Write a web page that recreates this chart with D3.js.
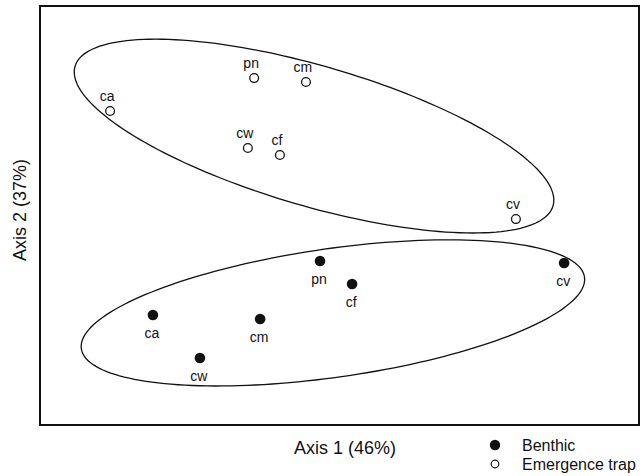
<!DOCTYPE html>
<html><head><meta charset="utf-8">
<script src="https://cdn.jsdelivr.net/npm/d3@7"></script>
<style>body{margin:0;background:#fff}svg{display:block}text{font-family:"Liberation Sans",Arial,sans-serif;fill:#111}</style>
</head><body>
<script>
// Ordination scores (axis units, no ticks shown)
const sites = ["ca","pn","cm","cw","cf","cv"];
const trapX = [-0.766,-0.285,-0.112,-0.306,-0.199,0.589];
const trapY = [0.499,0.656,0.637,0.322,0.289,-0.017];
const sitesB = ["pn","cf","cv","ca","cm","cw"];
const benthX = [-0.065,0.042,0.750,-0.623,-0.265,-0.466];
const benthY = [-0.217,-0.327,-0.227,-0.475,-0.494,-0.680];
// Ellipses: centre and two conjugate half-axis vectors (data units)
const ellTrap = {c:[-0.085,0.379], u:[0.798,-0.333], v:[-0.065,-0.321]};
const ellBenth = {c:[-0.022,-0.465], u:[0.840,0.171], v:[0.030,-0.304]};
const legendLabels = ["Benthic","Emergence trap"];
const xTitle = "Axis 1 (46%)", yTitle = "Axis 2 (37%)";

const W=641,H=476;
const svg=d3.select("body").append("svg").attr("width",W).attr("height",H);
const x=d3.scaleLinear().domain([-1,1]).range([40,639]);
const y=d3.scaleLinear().domain([-1,1]).range([425,6]);

svg.append("rect").attr("x",x(-1)).attr("y",y(1)).attr("width",x(1)-x(-1)).attr("height",y(-1)-y(1))
  .attr("fill","none").attr("stroke","#111").attr("stroke-width",2);

function ellPts(e){
  return d3.range(0,361,2).map(d=>{const t=d*Math.PI/180;
    return [e.c[0]+e.u[0]*Math.cos(t)+e.v[0]*Math.sin(t), e.c[1]+e.u[1]*Math.cos(t)+e.v[1]*Math.sin(t)];});
}
const line=d3.line().x(d=>x(d[0])).y(d=>y(d[1])).curve(d3.curveLinearClosed);
[ellTrap,ellBenth].forEach(e=>svg.append("path").attr("d",line(ellPts(e))).attr("fill","none").attr("stroke","#111").attr("stroke-width",1.3));

const trap=sites.map((s,i)=>({s,x:trapX[i],y:trapY[i]}));
const benth=sitesB.map((s,i)=>({s,x:benthX[i],y:benthY[i]}));

svg.selectAll(".tp").data(trap).join("circle").attr("cx",d=>x(d.x)).attr("cy",d=>y(d.y)).attr("r",4.4)
  .attr("fill","#fff").attr("stroke","#111").attr("stroke-width",1.3);
svg.selectAll(".tl").data(trap).join("text").attr("x",d=>x(d.x)-3).attr("y",d=>y(d.y)-10)
  .attr("text-anchor","middle").attr("font-size",14).text(d=>d.s);

svg.selectAll(".bp").data(benth).join("circle").attr("cx",d=>x(d.x)).attr("cy",d=>y(d.y)).attr("r",5.3).attr("fill","#111");
svg.selectAll(".bl").data(benth).join("text").attr("x",d=>x(d.x)-1).attr("y",d=>y(d.y)+23)
  .attr("text-anchor","middle").attr("font-size",14).text(d=>d.s);

svg.append("text").attr("x",345).attr("y",454).attr("text-anchor","middle").attr("font-size",18).text(xTitle);
svg.append("text").attr("transform","translate(26,210) rotate(-90)").attr("text-anchor","middle").attr("font-size",18).text(yTitle);

const lg=svg.append("g");
lg.append("circle").attr("cx",495).attr("cy",445).attr("r",5.2).attr("fill","#111");
lg.append("circle").attr("cx",495).attr("cy",464).attr("r",3.8).attr("fill","#fff").attr("stroke","#111").attr("stroke-width",1.2);
legendLabels.forEach((t,i)=>lg.append("text").attr("x",522).attr("y",451+i*19).attr("font-size",16).text(t));
</script>
</body></html>
